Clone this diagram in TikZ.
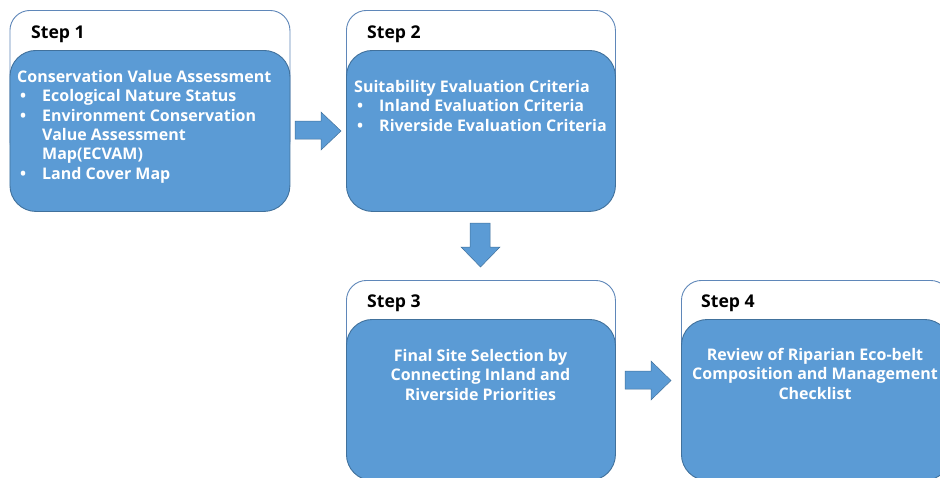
\documentclass[tikz,border=0pt]{standalone}
\usepackage{fontspec}
\setmainfont{Open Sans}
\definecolor{stepblue}{RGB}{91,155,213}
\definecolor{blueborder}{RGB}{65,113,156}
\definecolor{outerborder}{RGB}{95,135,185}
\newcommand{\bul}{\hspace*{3pt}\makebox[22pt][l]{•}}
\newcommand{\ind}{\hspace*{25pt}}
\begin{document}
\begin{tikzpicture}[x=1pt,y=-1pt,
  outerbox/.style={draw=outerborder, line width=0.9pt, fill=white, rounded corners=20pt, inner sep=0, minimum height=150pt, anchor=north west},
  bluebox/.style={draw=blueborder, line width=0.9pt, fill=stepblue, rounded corners=26pt, inner sep=0, minimum height=161pt, anchor=north west},
  steplabel/.style={font=\fontsize{17.6}{20}\selectfont\bfseries, text=black, inner sep=0, anchor=base west},
  bodytext/.style={font=\fontsize{16}{19.4}\selectfont\bfseries, text=white, inner sep=0},
  blockarrow/.style={fill=stepblue, draw=blueborder, line width=0.5pt}]
\clip (0,0) rectangle (940,477);
% Step 1
\node[outerbox, minimum width=280pt] (o1) at (9.5,10) {};
\node[bluebox, minimum width=280pt] (b1) at (9.5,50) {};
\node[steplabel] (l1) at (31,38) {Step 1};
\node[bodytext, align=left, anchor=north west] (t1) at (17,70) {Conservation Value Assessment\\
\bul Ecological Nature Status\\
\bul Environment Conservation\\
\ind Value Assessment\\
\ind Map(ECVAM)\\
\bul Land Cover Map};
% Step 2
\node[outerbox, minimum width=269pt] (o2) at (346,10) {};
\node[bluebox, minimum width=269pt] (b2) at (346,50) {};
\node[steplabel] (l2) at (367,38) {Step 2};
\node[bodytext, align=left, anchor=north west] (t2) at (354,80) {Suitability Evaluation Criteria\\
\bul Inland Evaluation Criteria\\
\bul Riverside Evaluation Criteria};
% Step 3
\node[outerbox, minimum width=269pt] (o3) at (346,280) {};
\node[bluebox, minimum width=269pt] (b3) at (346,319) {};
\node[steplabel] (l3) at (367,307) {Step 3};
\node[bodytext, align=center, anchor=north] (t3) at (480.5,349) {Final Site Selection by\\Connecting Inland and\\Riverside Priorities};
% Step 4
\node[outerbox, minimum width=269pt] (o4) at (681,280) {};
\node[bluebox, minimum width=269pt] (b4) at (681,319) {};
\node[steplabel] (l4) at (701,307) {Step 4};
\node[bodytext, align=center, anchor=north] (t4) at (815,348) {Review of Riparian Eco-belt\\Composition and Management\\Checklist};
% arrows
\draw[blockarrow] (295,121) -- (321,121) -- (321,112) -- (341,131) -- (321,150) -- (321,139) -- (295,139) -- cycle;
\draw[blockarrow] (470,223) -- (490,223) -- (490,247) -- (500,247) -- (480.5,267) -- (461,247) -- (470,247) -- cycle;
\draw[blockarrow] (625,371) -- (651,371) -- (651,361) -- (671,380.5) -- (651,400) -- (651,389) -- (625,389) -- cycle;
\end{tikzpicture}
\end{document}
